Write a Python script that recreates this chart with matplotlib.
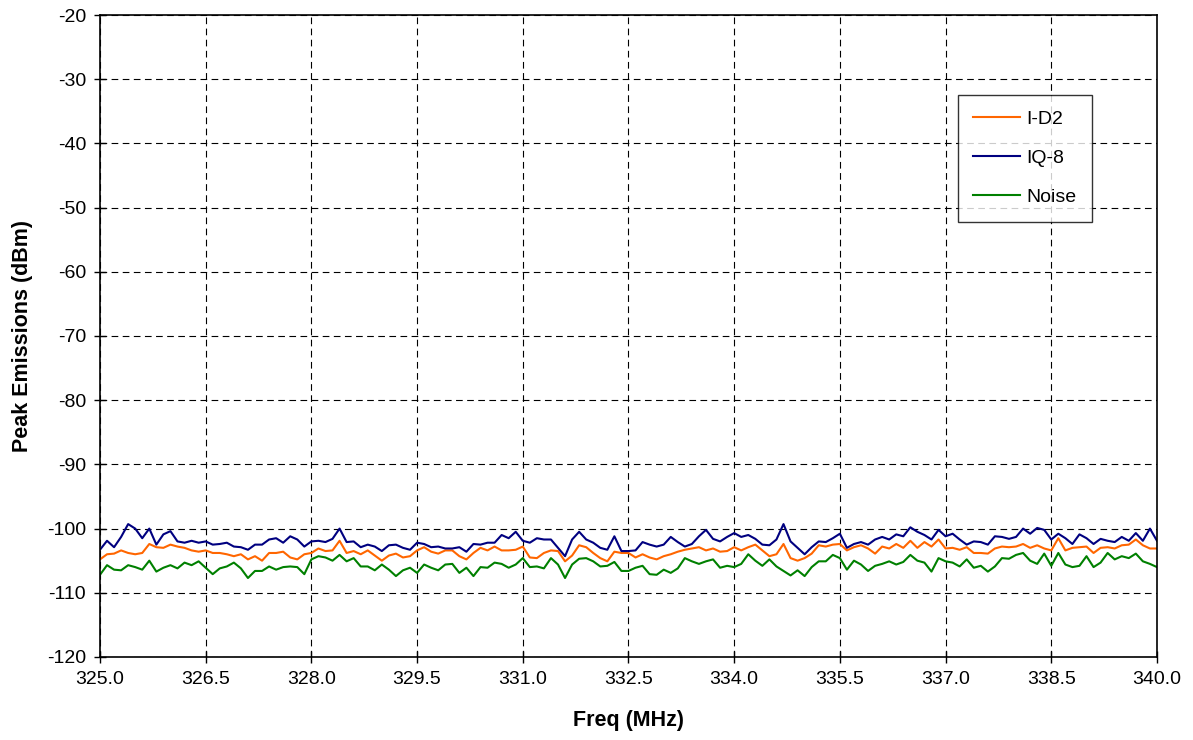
import numpy as np
import matplotlib
matplotlib.use("Agg")
import matplotlib.pyplot as plt
from matplotlib.ticker import FormatStrFormatter

plt.rcParams['font.family'] = ['Liberation Sans', 'DejaVu Sans']
plt.rcParams['axes.unicode_minus'] = False

# frequency grid (MHz), 0.1 MHz steps
freq = np.linspace(325.0, 340.0, 151)

i_d2 = [
    -104.8, -104.0, -103.9, -103.4, -103.8, -104.0, -103.8, -102.4, -102.9, -103.0,
    -102.5, -102.8, -103.0, -103.4, -103.6, -103.4, -103.8, -103.8, -104.0, -104.3,
    -104.0, -104.8, -104.3, -105.0, -103.8,
    -103.8, -103.6, -104.5, -104.8, -104.0, -103.8, -103.1, -103.5, -103.4, -101.9,
    -103.8, -103.5, -104.0, -103.4, -104.2, -105.0, -104.2, -103.9, -104.5, -104.3,
    -103.4, -102.9, -103.6, -103.9, -103.4,
    -103.4, -104.3, -104.8, -103.8, -103.0, -103.4, -102.8, -103.4, -103.4, -103.3,
    -102.8, -104.5, -104.6, -103.8, -103.4, -103.5, -105.1, -104.2, -102.6, -102.9,
    -103.8, -104.6, -105.1, -103.6, -103.8,
    -103.8, -104.5, -104.0, -104.5, -104.8, -104.3, -104.0, -103.6, -103.3, -103.1,
    -102.9, -103.4, -103.1, -103.6, -103.5, -102.9, -103.4, -102.9, -102.5, -103.4,
    -104.3, -104.0, -102.4, -104.6, -105.0,
    -104.6, -103.9, -102.6, -102.8, -102.5, -102.4, -103.4, -102.9, -102.6, -103.1,
    -103.9, -102.8, -103.1, -102.4, -103.0, -101.9, -103.0, -102.1, -102.8, -101.7,
    -103.1, -103.0, -103.3, -102.9, -103.8,
    -103.8, -103.9, -103.1, -102.8, -102.9, -102.8, -102.4, -103.0, -102.6, -103.1,
    -103.4, -101.5, -103.4, -103.0, -102.9, -102.8, -103.8, -103.0, -102.9, -103.1,
    -102.6, -102.5, -101.7, -102.6, -103.1, -103.1,
]

iq_8 = [
    -103.3, -101.9, -102.9, -101.3, -99.3, -100.0, -101.5, -100.0, -102.5, -100.9,
    -100.4, -102.0, -102.2, -101.9, -102.2, -102.0, -102.5, -102.4, -102.2, -102.8,
    -102.9, -103.3, -102.5, -102.5, -101.7,
    -101.5, -102.2, -101.2, -101.7, -102.8, -102.0, -101.9, -102.1, -101.6, -100.0,
    -102.1, -102.0, -102.9, -102.5, -102.8, -103.5, -102.6, -102.5, -103.0, -103.3,
    -102.2, -102.4, -102.9, -102.8, -103.1,
    -103.1, -102.9, -103.6, -102.4, -102.5, -102.2, -102.2, -101.0, -101.5, -100.5,
    -101.9, -102.2, -101.5, -101.7, -101.7, -103.0, -104.3, -101.7, -100.5, -101.7,
    -102.2, -103.0, -103.3, -101.2, -103.5,
    -103.5, -103.4, -102.1, -102.5, -102.8, -102.5, -101.3, -102.1, -102.8, -102.4,
    -101.2, -100.2, -101.6, -102.0, -101.3, -100.7, -101.3, -101.0, -101.6, -102.5,
    -102.6, -101.7, -99.3, -102.0, -103.0,
    -104.0, -102.9, -102.0, -102.1, -101.5, -100.8, -103.0, -102.4, -102.1, -102.5,
    -101.7, -101.3, -101.7, -100.9, -101.2, -99.8, -100.5, -101.0, -101.7, -100.2,
    -101.2, -100.8, -101.7, -102.5, -102.0,
    -102.1, -102.5, -101.2, -101.3, -101.6, -101.3, -100.0, -100.8, -99.9, -100.2,
    -101.7, -100.8, -101.5, -102.4, -100.9, -101.5, -102.4, -101.6, -101.9, -102.1,
    -101.3, -101.9, -100.7, -101.9, -100.0, -101.9,
]

noise = [
    -107.2, -105.7, -106.4, -106.5, -105.7, -106.0, -106.4, -105.0, -106.7, -106.1,
    -105.7, -106.2, -105.3, -105.7, -105.1, -106.1, -107.1, -106.2, -105.9, -105.3,
    -106.2, -107.7, -106.6, -106.6, -105.9,
    -106.4, -106.0, -105.9, -106.0, -107.1, -104.8, -104.3, -104.5, -105.0, -104.1,
    -105.1, -104.6, -105.9, -105.9, -106.5, -105.6, -106.4, -107.4, -106.5, -106.1,
    -106.9, -105.6, -106.1, -106.5, -105.6,
    -105.5, -106.9, -106.1, -107.4, -106.0, -106.1, -105.3, -105.5, -106.1, -105.6,
    -104.6, -106.0, -105.9, -106.2, -104.6, -105.6, -107.7, -105.6, -104.7, -104.6,
    -105.1, -105.9, -105.8, -105.2, -106.6,
    -106.6, -106.1, -105.8, -107.1, -107.2, -106.4, -106.9, -106.2, -104.6, -105.1,
    -105.5, -105.1, -104.8, -106.1, -105.8, -106.0, -105.5, -104.0, -105.0, -105.8,
    -104.8, -105.9, -106.6, -107.3, -106.5,
    -107.4, -106.0, -105.1, -105.1, -104.1, -104.6, -106.4, -105.0, -105.6, -106.6,
    -105.8, -105.5, -105.1, -105.6, -105.2, -104.1, -105.0, -105.3, -106.7, -104.6,
    -105.1, -105.3, -105.9, -104.8, -106.1,
    -105.8, -106.7, -105.9, -104.6, -104.7, -104.1, -103.8, -105.0, -105.5, -103.9,
    -105.8, -103.8, -105.6, -106.0, -105.8, -104.3, -106.0, -105.3, -103.8, -104.8,
    -104.3, -104.6, -103.9, -105.1, -105.5, -106.0,
]

x_ticks = [325.0, 326.5, 328.0, 329.5, 331.0, 332.5, 334.0, 335.5, 337.0, 338.5, 340.0]
y_ticks = list(range(-120, -19, 10))

fig = plt.figure(figsize=(11.93, 7.40), dpi=100)
ax = fig.add_axes([0.0838, 0.1122, 0.886, 0.8675])

ax.plot(freq, i_d2, color='#FF6600', lw=1.5, label='I-D2')
ax.plot(freq, iq_8, color='#000080', lw=1.5, label='IQ-8')
ax.plot(freq, noise, color='#008000', lw=1.5, label='Noise')

ax.set_xlim(325, 340)
ax.set_ylim(-120, -20)
ax.set_xticks(x_ticks)
ax.set_yticks(y_ticks)
ax.xaxis.set_major_formatter(FormatStrFormatter('%.1f'))
ax.grid(True, color='black', linestyle=(0, (6, 4)), lw=0.8)
ax.tick_params(direction='inout', length=8, width=1, labelsize=14, pad=6)
for s in ax.spines.values():
    s.set_linewidth(1.2)

ax.set_xlabel('Freq (MHz)', fontsize=15.5, fontweight='bold', labelpad=16)
ax.set_ylabel('Peak Emissions (dBm)', fontsize=15.5, fontweight='bold', labelpad=10)

leg = ax.legend(loc='upper left', bbox_to_anchor=(0.8117, 0.8754), fontsize=14,
                frameon=True, fancybox=False, handlelength=2.4, labelspacing=1.1,
                borderpad=0.8, handletextpad=0.3, borderaxespad=0)
leg.get_frame().set_edgecolor('black')
leg.get_frame().set_linewidth(1.0)

fig.savefig('out.png', dpi=100)
